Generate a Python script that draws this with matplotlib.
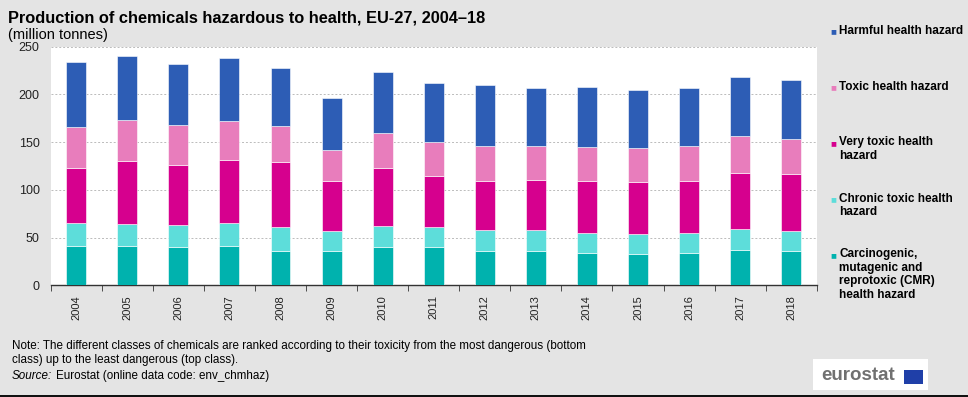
import matplotlib.pyplot as plt
from matplotlib.patches import Rectangle
import numpy as np

plt.rcParams['font.family'] = ['Liberation Sans', 'DejaVu Sans']

years = ['2004', '2005', '2006', '2007', '2008', '2009', '2010', '2011',
         '2012', '2013', '2014', '2015', '2016', '2017', '2018']

# million tonnes, stacked bottom -> top
cmr = [41.5, 41.5, 40.2, 41.5, 36.0, 36.0, 40.2, 40.2, 36.0, 36.0, 33.5, 32.8, 33.5, 37.4, 36.3]
chronic = [23.8, 23.1, 23.0, 23.8, 25.5, 20.6, 22.3, 20.9, 22.0, 22.0, 21.0, 20.6, 21.0, 21.3, 20.6]
very_toxic = [58.0, 65.6, 63.2, 66.3, 67.7, 52.7, 60.4, 53.4, 51.6, 52.7, 55.1, 54.8, 55.1, 59.3, 59.7]
toxic = [42.6, 42.6, 41.2, 40.5, 37.7, 32.1, 37.0, 35.6, 36.7, 34.9, 35.3, 35.3, 36.7, 38.8, 36.7]
harmful = [68.4, 67.1, 64.6, 66.0, 60.4, 54.5, 63.9, 62.2, 63.2, 60.8, 62.9, 60.8, 60.1, 61.8, 61.4]

series = [
    ('Carcinogenic,\nmutagenic and\nreprotoxic (CMR)\nhealth hazard', cmr, '#00B2AE'),
    ('Chronic toxic health\nhazard', chronic, '#5DDDDA'),
    ('Very toxic health\nhazard', very_toxic, '#D6008E'),
    ('Toxic health hazard', toxic, '#E87DBC'),
    ('Harmful health hazard', harmful, '#2D5DB5'),
]

fig = plt.figure(figsize=(9.68, 3.97), dpi=100, facecolor='#E4E4E4')
ax = fig.add_axes([0.0524, 0.2814, 0.7913, 0.601])
ax.set_facecolor('white')

x = np.arange(len(years))
bottom = np.zeros(len(years))
for label, vals, col in series:
    ax.bar(x, vals, 0.39, bottom=bottom, color=col, edgecolor='white',
           linewidth=0.4, zorder=3)
    bottom += np.array(vals)

ax.set_xlim(-0.5, len(years) - 0.5)
ax.set_ylim(0, 250)
ax.set_yticks(range(0, 251, 50))
ax.grid(axis='y', color='#BBBBBB', linestyle=(0, (2, 2)), linewidth=0.7, zorder=0)
for s in ['top', 'right', 'left']:
    ax.spines[s].set_visible(False)
ax.spines['bottom'].set_color('#333333')
ax.spines['bottom'].set_linewidth(1.0)

ax.set_xticks(x)
ax.set_xticklabels(years, rotation=90, fontsize=8, color='#222222')
ax.tick_params(axis='x', which='major', length=0, pad=7)
ax.set_xticks(np.arange(-0.5, len(years), 1), minor=True)
ax.tick_params(axis='x', which='minor', length=4, color='#333333', direction='out')
ax.tick_params(axis='y', length=0, labelsize=9, labelcolor='#222222', pad=8)

fig.text(0.008, 0.955, 'Production of chemicals hazardous to health, EU-27, 2004\u201318',
         fontsize=11.8, fontweight='bold', va='center', ha='left')
fig.text(0.008, 0.912, '(million tonnes)', fontsize=10.5, va='center', ha='left')

# legend (top entry = top of the stack)
leg_y = [31, 87, 143, 199, 255]
for (label, vals, col), yy in zip(reversed(series), leg_y):
    fig.text(833 / 968, 1 - yy / 397, '\u25A0', color=col, fontsize=7,
             ha='center', va='center')
    fig.text(839 / 968, 1 - (yy - 6.5) / 397, label, fontsize=8.5, fontweight='bold',
             ha='left', va='top', linespacing=1.15)

fig.text(0.012, 1 - 353 / 397,
         'Note: The different classes of chemicals are ranked according to their toxicity from the most dangerous (bottom\n'
         'class) up to the least dangerous (top class).',
         fontsize=8.4, va='center', ha='left', linespacing=1.2)
fig.text(0.012, 1 - 376 / 397, 'Source:', fontsize=8.4, style='italic',
         va='center', ha='left')
fig.text(0.012 + 44 / 968, 1 - 376 / 397, 'Eurostat (online data code: env_chmhaz)',
         fontsize=8.4, va='center', ha='left')

# eurostat logo box
fig.patches.append(Rectangle((813 / 968, 1 - 390 / 397), 115 / 968, 31 / 397,
                             transform=fig.transFigure, facecolor='white', edgecolor='none'))
fig.text(821 / 968, 1 - 376 / 397, 'eurostat', fontsize=13.5, fontweight='bold',
         color='#707070', va='center', ha='left')
fig.patches.append(Rectangle((904 / 968, 1 - 384 / 397), 19 / 968, 14 / 397,
                             transform=fig.transFigure, facecolor='#1F3FA8', edgecolor='none'))
fig.patches.append(Rectangle((0, 0), 1, 2 / 397, transform=fig.transFigure,
                             facecolor='#111111', edgecolor='none'))

fig.savefig('out.png', dpi=100, facecolor=fig.get_facecolor())
